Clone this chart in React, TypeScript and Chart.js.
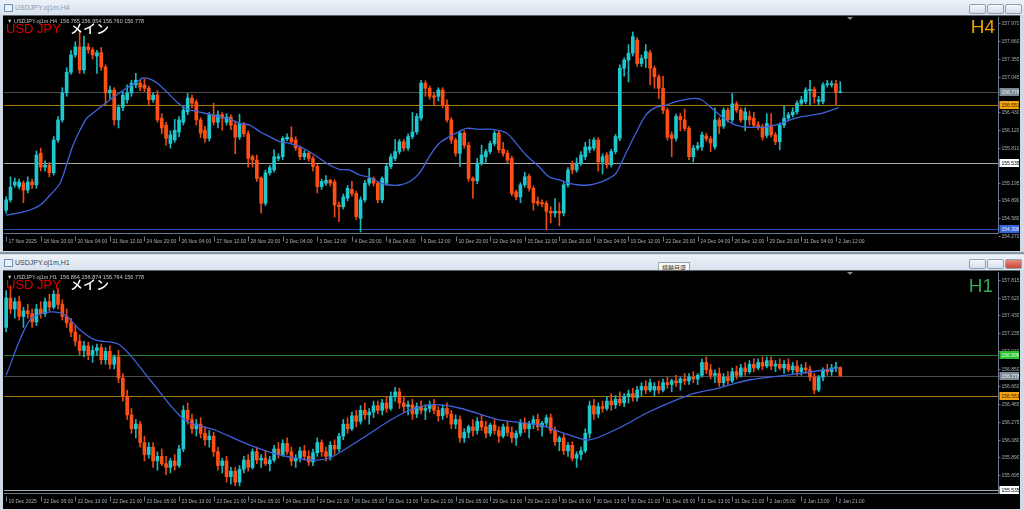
import React, { useEffect, useRef } from 'react';
import { Chart, registerables } from 'chart.js';
Chart.register(...registerables);

type Ohlc = [number, number, number, number];

// ---------------- H4 panel data ----------------
const h4XLabels = ['17 Nov 2025','18 Nov 20:00','20 Nov 04:00','21 Nov 12:00','24 Nov 20:00','26 Nov 04:00','27 Nov 12:00','28 Nov 20:00','2 Dec 04:00','3 Dec 12:00','4 Dec 20:00','8 Dec 04:00','9 Dec 12:00','10 Dec 20:00','12 Dec 04:00','15 Dec 12:00','16 Dec 20:00','18 Dec 04:00','19 Dec 12:00','22 Dec 20:00','24 Dec 04:00','26 Dec 12:00','29 Dec 20:00','31 Dec 04:00','2 Jan 12:00'];
const h4YTicks = [157.970,157.660,157.355,157.045,156.430,156.120,155.810,155.195,154.890,154.580,154.270];
const h4Ohlc: Ohlc[] = [
[154.72,154.95,154.67,154.90],[154.90,155.30,154.86,155.12],[155.16,155.28,155.12,155.21],[155.13,155.26,155.09,155.21],[155.19,155.23,154.85,155.07],
[155.07,155.30,155.02,155.21],[155.21,155.26,155.10,155.16],[155.16,155.75,155.10,155.68],[155.71,155.80,155.40,155.47],[155.47,155.58,155.40,155.50],
[155.50,155.55,155.30,155.37],[155.37,156.00,155.33,155.94],[155.94,156.35,155.90,156.29],[156.29,156.85,156.25,156.76],[156.76,157.20,156.70,157.12],
[157.12,157.50,157.08,157.42],[157.42,157.65,157.38,157.56],[157.56,157.85,157.10,157.16],[157.16,157.75,157.10,157.56],[157.56,157.62,157.45,157.51],
[157.51,157.55,157.35,157.42],[157.40,157.50,157.10,157.46],[157.46,157.55,157.15,157.21],[157.21,157.25,156.55,156.76],[156.76,156.88,156.65,156.81],
[156.81,156.85,156.20,156.29],[156.29,156.55,156.15,156.51],[156.51,156.78,156.45,156.72],[156.64,156.90,156.58,156.76],[156.76,156.98,156.70,156.93],
[156.90,157.10,156.85,156.98],[156.93,156.98,156.80,156.86],[156.90,157.00,156.78,156.84],[156.84,156.88,156.55,156.64],[156.64,156.76,156.60,156.72],
[156.72,156.80,156.25,156.29],[156.32,156.40,156.05,156.15],[156.20,156.25,155.85,155.97],[155.88,156.10,155.80,156.03],[155.94,156.30,155.90,156.11],
[156.08,156.35,156.00,156.29],[156.25,156.52,156.20,156.46],[156.43,156.75,156.38,156.67],[156.67,156.72,156.50,156.58],[156.60,156.64,156.20,156.29],
[156.29,156.33,155.98,156.06],[156.11,156.18,155.90,155.97],[155.97,156.42,155.92,156.38],[156.38,156.58,156.20,156.25],[156.25,156.45,156.15,156.38],
[156.38,156.42,156.11,156.32],[156.25,156.40,156.20,156.34],[156.34,156.38,156.12,156.20],[156.20,156.25,155.70,155.99],[155.99,156.39,155.95,156.23],
[156.20,156.25,156.00,156.05],[156.05,156.10,155.47,155.62],[155.65,155.68,155.47,155.59],[155.59,155.68,155.22,155.27],[155.28,155.30,154.67,154.84],
[154.84,155.42,154.80,155.37],[155.37,155.50,155.33,155.46],[155.42,155.77,155.38,155.65],[155.62,155.70,155.58,155.65],[155.65,156.00,155.60,155.97],
[155.96,156.05,155.93,155.99],[155.98,156.17,155.88,155.91],[155.94,156.00,155.76,155.80],[155.80,155.84,155.60,155.65],[155.65,155.76,155.60,155.71],
[155.71,155.74,155.57,155.62],[155.62,155.66,155.40,155.48],[155.48,155.52,155.02,155.13],[155.13,155.26,155.08,155.22],[155.19,155.32,155.15,155.24],
[155.24,155.26,155.14,155.19],[155.21,155.25,154.60,154.81],[154.81,154.86,154.52,154.78],[154.78,155.00,154.74,154.95],[154.93,155.15,154.88,155.10],
[155.08,155.22,154.97,155.01],[155.01,155.05,154.56,154.61],[154.58,154.95,154.34,154.90],[154.90,155.24,154.86,155.19],[155.19,155.45,155.15,155.27],
[155.27,155.30,155.14,155.19],[155.19,155.22,154.85,154.90],[154.90,155.30,154.85,155.27],[155.19,155.52,155.15,155.48],[155.48,155.70,155.44,155.65],
[155.62,155.95,155.58,155.74],[155.74,155.95,155.70,155.91],[155.91,155.95,155.75,155.80],[155.80,156.05,155.76,156.00],[156.00,156.42,155.96,156.08],
[156.08,156.40,156.04,156.35],[156.32,156.98,156.28,156.93],[156.93,156.97,156.70,156.84],[156.84,156.88,156.65,156.70],[156.71,156.76,156.55,156.68],
[156.70,156.85,156.62,156.81],[156.81,156.85,156.50,156.55],[156.55,156.64,156.25,156.29],[156.29,156.33,155.88,155.94],[155.94,155.98,155.66,155.71],
[155.71,156.10,155.48,156.06],[156.06,156.10,155.80,155.85],[155.85,155.90,155.22,155.27],[155.27,155.30,154.93,155.23],[155.23,155.62,155.18,155.54],
[155.54,155.85,155.50,155.68],[155.65,155.78,155.55,155.74],[155.74,155.92,155.70,155.88],[155.88,156.10,155.84,156.06],[156.06,156.10,155.72,155.77],
[155.78,155.90,155.66,155.71],[155.71,155.76,155.54,155.59],[155.62,155.66,154.97,155.01],[155.04,155.07,154.90,154.95],[154.95,155.20,154.85,155.16],
[155.16,155.38,155.12,155.30],[155.31,155.35,155.05,155.10],[155.10,155.14,154.72,154.85],[154.87,154.95,154.80,154.84],[154.85,154.90,154.78,154.83],
[154.84,154.88,154.38,154.70],[154.70,154.78,154.50,154.67],[154.67,154.92,154.60,154.70],[154.70,154.85,154.45,154.67],[154.67,155.20,154.62,155.16],
[155.16,155.46,155.12,155.42],[155.52,155.57,155.35,155.42],[155.42,155.63,155.38,155.54],[155.54,155.74,155.50,155.68],[155.65,155.90,155.60,155.82],
[155.77,155.95,155.72,155.82],[155.80,155.98,155.76,155.94],[155.94,155.98,155.40,155.56],[155.56,155.70,155.35,155.65],[155.68,155.72,155.45,155.51],
[155.51,155.78,155.47,155.74],[155.74,156.04,155.70,156.00],[155.97,157.25,155.93,157.19],[157.19,157.37,157.05,157.33],[157.33,157.60,156.95,157.45],
[157.45,157.82,157.40,157.74],[157.68,157.72,157.22,157.27],[157.27,157.42,157.22,157.36],[157.36,157.60,157.20,157.48],[157.46,157.50,156.90,157.19],
[157.19,157.23,156.84,157.04],[157.04,157.08,156.66,156.84],[156.84,157.05,156.40,156.46],[156.46,156.50,155.94,155.99],[156.03,156.08,155.65,155.97],
[155.97,156.39,155.92,156.35],[156.35,156.40,156.10,156.29],[156.29,156.48,156.10,156.14],[156.14,156.18,155.60,155.65],[155.65,155.85,155.56,155.80],
[155.80,155.90,155.76,155.84],[155.82,156.08,155.76,156.03],[156.01,156.06,155.92,155.96],[155.96,156.00,155.74,155.89],[155.82,156.50,155.78,156.29],
[156.29,156.33,156.05,156.18],[156.18,156.50,156.14,156.46],[156.46,156.50,156.25,156.29],[156.29,156.75,156.25,156.57],[156.57,156.61,156.42,156.46],
[156.46,156.50,156.25,156.29],[156.29,156.50,156.10,156.43],[156.35,156.44,156.20,156.29],[156.32,156.42,156.16,156.20],[156.20,156.26,156.12,156.17],
[156.17,156.21,155.94,155.99],[156.02,156.40,155.98,156.23],[156.20,156.40,155.99,156.03],[156.03,156.07,155.86,155.91],[155.91,156.24,155.77,156.20],
[156.20,156.53,156.16,156.32],[156.32,156.42,156.28,156.38],[156.38,156.50,156.34,156.43],[156.43,156.62,156.39,156.58],[156.58,156.70,156.54,156.64],
[156.61,156.85,156.57,156.81],[156.80,156.98,156.55,156.82],[156.82,156.86,156.58,156.69],[156.61,156.70,156.55,156.64],[156.61,156.94,156.57,156.90],
[156.90,156.98,156.86,156.92],[156.90,156.97,156.86,156.92],[156.92,156.98,156.55,156.77],[156.765,156.954,156.760,156.778]
];
const h4MaIdx = [0,3.2,5.5,7.9,10.2,12.5,14.1,15.5,17.1,18.7,21.0,23.3,25.6,27.9,30.3,31.6,33.3,34.9,37.2,39.5,41.8,44.8,48.7,52.4,54.0,56.4,58.7,61.0,63.3,65.6,67.9,70.2,72.5,74.8,77.1,79.4,81.8,84.1,86.4,88.7,91.0,93.3,95.6,97.9,100.2,102.5,104.8,106.5,109.5,112.5,115.7,118.0,120.3,123.3,125.6,128.0,130.3,132.6,134.9,137.2,139.5,141.1,143.4,145.7,148.0,150.3,152.7,155.0,157.3,159.6,161.0,163.3,165.6,167.9,170.2,172.5,174.8,177.1,179.4,181.8,184.1,186.4,188.7,191.0,192.6];
const h4MaVal = [154.636,154.676,154.723,154.810,154.984,155.193,155.540,155.853,156.114,156.323,156.462,156.601,156.723,156.845,156.949,157.019,157.001,156.932,156.775,156.601,156.480,156.427,156.358,156.288,156.231,156.201,156.085,155.998,155.911,155.883,155.824,155.737,155.622,155.506,155.431,155.419,155.332,155.292,155.198,155.158,155.158,155.215,155.361,155.650,155.883,155.998,156.085,156.144,156.127,156.127,156.067,155.883,155.680,155.476,155.302,155.245,155.187,155.158,155.158,155.198,155.274,155.361,155.709,156.057,156.375,156.509,156.549,156.607,156.648,156.666,156.636,156.492,156.346,156.231,156.172,156.161,156.161,156.184,156.231,156.300,156.346,156.375,156.405,156.462,156.502];
const h4Levels = [156.778, 156.551, 155.535, 154.396];
const h4LevelLine = ['#4d4d4d', '#a8780e', '#a8a8a8', '#2a4cb0'];
const h4LevelBox = ['#7e8a97', '#f2a30f', '#ffffff', '#3464da'];
const h4LevelInk = ['#f0f0f0', '#3a2000', '#000000', '#f0f0f0'];
const h4Quote = '156.765 156.954 156.760 156.778';

// ---------------- H1 panel data ----------------
const h1XLabels = ['19 Dec 2025','22 Dec 05:00','22 Dec 13:00','22 Dec 21:00','23 Dec 05:00','23 Dec 13:00','23 Dec 21:00','24 Dec 05:00','24 Dec 13:00','24 Dec 21:00','26 Dec 05:00','26 Dec 13:00','26 Dec 21:00','29 Dec 05:00','29 Dec 13:00','29 Dec 21:00','30 Dec 05:00','30 Dec 13:00','30 Dec 21:00','31 Dec 05:00','31 Dec 13:00','31 Dec 21:00','2 Jan 05:00','2 Jan 13:00','2 Jan 21:00'];
const h1YTicks = [157.815,157.620,157.430,157.235,157.040,156.850,156.660,156.465,156.275,156.080,155.890,155.695];
const h1Ohlc: Ohlc[] = [
[157.30,157.70,157.25,157.62],[157.62,157.75,157.45,157.50],[157.50,157.62,157.40,157.58],[157.58,157.64,157.38,157.42],[157.42,157.52,157.30,157.48],
[157.48,157.55,157.40,157.45],[157.45,157.50,157.30,157.36],[157.36,157.55,157.32,157.50],[157.50,157.58,157.40,157.45],[157.45,157.62,157.42,157.58],
[157.58,157.66,157.48,157.52],[157.52,157.70,157.50,157.66],[157.66,157.72,157.50,157.55],[157.55,157.60,157.38,157.42],[157.42,157.50,157.30,157.35],
[157.35,157.40,157.20,157.25],[157.25,157.32,157.10,157.15],[157.15,157.22,157.00,157.05],[157.05,157.15,156.98,157.10],[157.10,157.14,156.95,157.00],
[157.00,157.10,156.92,157.05],[157.05,157.12,157.00,157.08],[157.08,157.12,156.90,156.95],[156.95,157.08,156.90,157.04],[157.04,157.10,156.85,156.90],
[156.90,157.00,156.85,156.98],[156.98,157.05,156.70,156.75],[156.75,156.80,156.50,156.55],[156.55,156.62,156.30,156.35],[156.35,156.42,156.15,156.20],
[156.20,156.30,156.10,156.25],[156.25,156.28,156.00,156.05],[156.05,156.12,155.85,155.92],[155.92,156.05,155.88,156.00],[156.00,156.05,155.78,155.85],
[155.85,155.95,155.75,155.90],[155.90,155.98,155.80,155.82],[155.82,155.90,155.70,155.78],[155.78,155.88,155.72,155.85],[155.85,155.92,155.75,155.80],
[155.80,156.02,155.78,155.98],[155.98,156.45,155.95,156.40],[156.40,156.48,156.25,156.30],[156.30,156.36,156.15,156.20],[156.20,156.30,156.12,156.25],
[156.25,156.32,156.10,156.15],[156.15,156.22,156.02,156.08],[156.08,156.18,156.00,156.12],[156.12,156.16,155.90,155.95],[155.95,156.00,155.75,155.80],
[155.80,155.88,155.72,155.85],[155.85,155.90,155.62,155.68],[155.68,155.78,155.60,155.74],[155.74,155.78,155.58,155.62],[155.62,155.80,155.58,155.76],
[155.76,155.90,155.72,155.86],[155.86,155.92,155.74,155.78],[155.78,155.98,155.76,155.95],[155.95,156.00,155.82,155.86],[155.86,155.92,155.78,155.88],
[155.88,155.96,155.80,155.82],[155.82,155.90,155.74,155.86],[155.86,156.02,155.84,155.98],[155.98,156.05,155.88,155.92],[155.92,156.08,155.90,156.04],
[156.04,156.10,155.92,155.95],[155.95,156.00,155.80,155.85],[155.85,155.92,155.78,155.88],[155.88,156.00,155.84,155.96],[155.96,156.02,155.86,155.90],
[155.90,155.96,155.80,155.84],[155.84,155.98,155.80,155.94],[155.94,156.10,155.90,156.05],[156.05,156.08,155.90,155.95],[155.95,156.00,155.85,155.90],
[155.90,156.06,155.86,156.02],[156.02,156.08,155.92,155.98],[155.98,156.15,155.95,156.12],[156.12,156.30,156.08,156.25],[156.25,156.32,156.15,156.20],
[156.20,156.38,156.18,156.34],[156.34,156.40,156.22,156.28],[156.28,156.45,156.25,156.40],[156.40,156.48,156.30,156.35],[156.35,156.42,156.25,156.38],
[156.38,156.50,156.32,156.45],[156.45,156.50,156.36,156.40],[156.40,156.52,156.35,156.48],[156.48,156.55,156.38,156.42],[156.42,156.60,156.40,156.55],
[156.55,156.65,156.50,156.60],[156.60,156.64,156.42,156.48],[156.48,156.55,156.38,156.44],[156.44,156.50,156.35,156.46],[156.46,156.52,156.30,156.36],
[156.36,156.48,156.32,156.44],[156.44,156.50,156.36,156.40],[156.40,156.46,156.30,156.42],[156.42,156.50,156.38,156.46],[156.46,156.52,156.36,156.40],
[156.40,156.44,156.28,156.34],[156.34,156.46,156.30,156.42],[156.42,156.48,156.32,156.36],[156.36,156.40,156.20,156.25],[156.25,156.35,156.20,156.30],
[156.30,156.34,156.05,156.10],[156.10,156.20,156.05,156.16],[156.16,156.24,156.10,156.22],[156.22,156.30,156.12,156.18],[156.18,156.32,156.14,156.28],
[156.28,156.35,156.18,156.22],[156.22,156.28,156.10,156.15],[156.15,156.26,156.12,156.24],[156.24,156.30,156.14,156.18],[156.18,156.22,156.05,156.12],
[156.12,156.25,156.10,156.22],[156.22,156.28,156.12,156.16],[156.16,156.22,156.05,156.10],[156.10,156.18,156.02,156.15],[156.15,156.30,156.12,156.26],
[156.26,156.32,156.16,156.20],[156.20,156.28,156.10,156.25],[156.25,156.34,156.20,156.30],[156.30,156.36,156.18,156.22],[156.22,156.28,156.12,156.26],
[156.26,156.35,156.22,156.32],[156.32,156.36,156.15,156.18],[156.18,156.22,156.02,156.06],[156.06,156.12,155.96,156.10],[156.10,156.14,155.92,155.96],
[155.96,156.05,155.90,156.02],[156.02,156.06,155.85,155.88],[155.88,155.95,155.78,155.92],[155.92,156.00,155.86,155.96],[155.96,156.20,155.94,156.15],
[156.15,156.50,156.10,156.45],[156.45,156.52,156.30,156.36],[156.36,156.48,156.32,156.44],[156.44,156.50,156.38,156.42],[156.42,156.55,156.40,156.50],
[156.50,156.58,156.40,156.46],[156.46,156.56,156.42,156.52],[156.52,156.60,156.45,156.48],[156.48,156.58,156.44,156.55],[156.55,156.62,156.48,156.58],
[156.58,156.64,156.50,156.54],[156.54,156.66,156.50,156.62],[156.62,156.70,156.56,156.66],[156.66,156.72,156.58,156.62],[156.62,156.74,156.60,156.70],
[156.62,156.70,156.56,156.66],[156.66,156.72,156.58,156.62],[156.62,156.74,156.60,156.70],[156.70,156.76,156.64,156.68],[156.68,156.74,156.60,156.72],
[156.72,156.78,156.66,156.70],[156.70,156.76,156.62,156.74],[156.74,156.80,156.68,156.72],[156.72,156.80,156.68,156.76],[156.76,156.82,156.70,156.74],
[156.74,156.80,156.68,156.78],[156.78,156.96,156.76,156.92],[156.92,156.98,156.80,156.84],[156.84,156.90,156.74,156.78],[156.78,156.84,156.70,156.80],
[156.80,156.86,156.66,156.70],[156.70,156.80,156.66,156.76],[156.76,156.82,156.68,156.72],[156.72,156.86,156.70,156.82],[156.82,156.88,156.74,156.78],
[156.78,156.90,156.76,156.86],[156.86,156.92,156.78,156.82],[156.82,156.94,156.80,156.90],[156.90,156.96,156.82,156.86],[156.86,156.96,156.84,156.92],
[156.92,156.98,156.84,156.88],[156.88,156.98,156.86,156.94],[156.94,156.98,156.84,156.88],[156.88,156.94,156.82,156.90],[156.90,156.96,156.84,156.86],
[156.86,156.94,156.80,156.90],[156.90,156.96,156.82,156.84],[156.84,156.92,156.80,156.88],[156.88,156.94,156.78,156.82],[156.82,156.90,156.78,156.86],
[156.86,156.92,156.80,156.84],[156.84,156.88,156.72,156.76],[156.76,156.80,156.58,156.62],[156.62,156.78,156.60,156.76],[156.76,156.86,156.72,156.84],
[156.84,156.90,156.78,156.82],[156.82,156.90,156.78,156.86],[156.86,156.92,156.82,156.86],[156.864,156.874,156.764,156.778]
];
const h1MaIdx = [0,5.5,10.2,13.6,17.1,20.6,26.3,33.3,41.3,48.3,56.4,63.3,70.2,74.8,81.8,91.0,97.9,104.8,114.1,123.3,130.3,134.9,141.8,148.7,158.0,164.9,171.8,181.1,192.6];
const h1MaVal = [156.784,157.381,157.468,157.435,157.272,157.164,157.109,156.729,156.295,156.186,156.023,155.915,155.861,155.882,156.078,156.349,156.458,156.425,156.295,156.241,156.132,156.078,156.208,156.382,156.566,156.642,156.729,156.784,156.860];
const h1Levels = [156.996, 156.778, 156.551, 155.535];
const h1LevelLine = ['#1f7d24', '#4d4d4d', '#a8780e', '#a8a8a8'];
const h1LevelBox = ['#27c22c', '#7e8a97', '#f2a30f', '#ffffff'];
const h1LevelInk = ['#f4fff4', '#f0f0f0', '#3a2000', '#000000'];
const h1Quote = '156.864 156.874 156.764 156.778';

// ---------------- styling ----------------
const SLOTS = 230;
const LABEL_STEP = 8;
const BULL = '#1fc7cf';
const BEAR = '#ff4f14';
const BULL_WICK = '#1bb6be';
const BEAR_WICK = '#ea4812';
const MA_COLOR = '#3f62dc';
const AXIS = '#6b7a8a';
const INK = '#a9aeb4';
const CANVAS_W = 1015;
const FONT = '"Liberation Sans", Arial, sans-serif';

interface PanelSpec {
  ohlc: Ohlc[]; maIdx: number[]; maVal: number[]; yMin: number; yMax: number; yTicks: number[];
  xLabels: string[]; levels: number[]; levelLine: string[]; levelBox: string[]; levelInk: string[];
  title: string; quote: string; tf: string; tfColor: string; height: number; padTop: number; padBottom: number;
  headY: number; bigY: number; tfRight: number; tfY: number;
}

const h4Spec: PanelSpec = {
  ohlc: h4Ohlc, maIdx: h4MaIdx, maVal: h4MaVal, yMin: 154.323, yMax: 158.080, yTicks: h4YTicks,
  xLabels: h4XLabels, levels: h4Levels, levelLine: h4LevelLine, levelBox: h4LevelBox, levelInk: h4LevelInk,
  title: 'USDJPY.oj1m,H4', quote: h4Quote, tf: 'H4', tfColor: '#f0a000', height: 234, padTop: 1, padBottom: 17,
  headY: 5, bigY: 17, tfRight: 991, tfY: 17,
};
const h1Spec: PanelSpec = {
  ohlc: h1Ohlc, maIdx: h1MaIdx, maVal: h1MaVal, yMin: 155.502, yMax: 157.902, yTicks: h1YTicks,
  xLabels: h1XLabels, levels: h1Levels, levelLine: h1LevelLine, levelBox: h1LevelBox, levelInk: h1LevelInk,
  title: 'USDJPY.oj1m,H1', quote: h1Quote, tf: 'H1', tfColor: '#34a853', height: 236, padTop: 1, padBottom: 14,
  headY: 6.5, bigY: 18, tfRight: 989, tfY: 21,
};

function buildConfig(p: PanelSpec): any {
  const bodies = p.ohlc.map((c, i) => ({ x: i, y: [c[0], c[3]] }));
  const wicks = p.ohlc.map((c, i) => ({ x: i, y: [c[2], c[1]] }));
  const up = p.ohlc.map((c) => c[3] >= c[0]);
  const ma = p.maIdx.map((x, i) => ({ x, y: p.maVal[i] }));

  const plugin = {
    id: 'mt4look',
    beforeDatasetsDraw(chart: any) {
      const ctx = chart.ctx; const a = chart.chartArea; const ys = chart.scales.y;
      ctx.save();
      ctx.lineWidth = 1;
      p.levels.forEach((v, k) => {
        const y = Math.round(ys.getPixelForValue(v)) + 0.5;
        ctx.strokeStyle = p.levelLine[k];
        ctx.beginPath(); ctx.moveTo(a.left, y); ctx.lineTo(a.right, y); ctx.stroke();
      });
      ctx.restore();
    },
    afterDraw(chart: any) {
      const ctx = chart.ctx; const a = chart.chartArea; const xs = chart.scales.x; const ys = chart.scales.y;
      ctx.save();
      ctx.strokeStyle = AXIS; ctx.lineWidth = 1;
      const ax = Math.round(a.right) + 0.5;
      const by = Math.round(a.bottom) + 0.5;
      ctx.beginPath();
      ctx.moveTo(ax, a.top); ctx.lineTo(ax, by);
      ctx.moveTo(a.left, by); ctx.lineTo(ax, by);
      ctx.stroke();
      // price scale
      ctx.font = `5px ${FONT}`; ctx.fillStyle = INK; ctx.textBaseline = 'middle'; ctx.textAlign = 'left';
      p.yTicks.forEach((v) => {
        const y = Math.round(ys.getPixelForValue(v)) + 0.5;
        ctx.beginPath(); ctx.moveTo(ax, y); ctx.lineTo(ax + 2, y); ctx.stroke();
        ctx.fillText(v.toFixed(3), ax + 3, y);
      });
      // time scale
      p.xLabels.forEach((t, k) => {
        const x = Math.round(xs.getPixelForValue(k * LABEL_STEP)) + 0.5;
        ctx.beginPath(); ctx.moveTo(x, by + 3); ctx.lineTo(x, by + 8); ctx.stroke();
        ctx.fillText(t, x + 2, by + 8.5);
      });
      // level boxes
      p.levels.forEach((v, k) => {
        const y = Math.round(ys.getPixelForValue(v));
        ctx.fillStyle = p.levelBox[k];
        ctx.fillRect(ax + 1, y - 4, 20, 8);
        ctx.fillStyle = p.levelInk[k];
        ctx.fillText(v.toFixed(3), ax + 3, y + 0.5);
      });
      // shift marker
      ctx.fillStyle = '#8a8a8a';
      ctx.beginPath(); ctx.moveTo(843, a.top); ctx.lineTo(849, a.top); ctx.lineTo(846, a.top + 3); ctx.closePath(); ctx.fill();
      // header line
      ctx.font = `5.5px ${FONT}`; ctx.fillStyle = '#c8c8c8'; ctx.textBaseline = 'middle';
      ctx.fillText('\u25BC ' + p.title + '  ' + p.quote, 3, p.headY);
      ctx.textBaseline = 'alphabetic';
      ctx.font = `13px ${FONT}`; ctx.fillStyle = '#e00000';
      ctx.fillText('USD JPY', 2, p.bigY);
      ctx.font = `500 13px "Noto Sans CJK JP", sans-serif`; ctx.fillStyle = '#ffffff';
      ctx.fillText('メイン', 66, p.bigY);
      ctx.font = `19px ${FONT}`; ctx.fillStyle = p.tfColor; ctx.textAlign = 'right';
      ctx.fillText(p.tf, p.tfRight, p.tfY);
      ctx.restore();
    },
  };

  return {
    type: 'bar',
    data: {
      datasets: [
        { type: 'line', data: ma, borderColor: MA_COLOR, borderWidth: 1.3, pointRadius: 0, tension: 0.3, order: 0 },
        { type: 'bar', data: bodies, backgroundColor: up.map((u) => (u ? BULL : BEAR)), barThickness: 3, minBarLength: 1, grouped: false, order: 1 },
        { type: 'bar', data: wicks, backgroundColor: up.map((u) => (u ? BULL_WICK : BEAR_WICK)), barThickness: 1, grouped: false, order: 2 },
      ],
    },
    options: {
      animation: false,
      responsive: false,
      maintainAspectRatio: false,
      devicePixelRatio: 1,
      events: [],
      layout: { padding: { left: 0, right: CANVAS_W - 994, top: p.padTop, bottom: p.padBottom } },
      plugins: { legend: { display: false }, tooltip: { enabled: false } },
      scales: {
        x: { type: 'linear', display: false, min: -0.5, max: SLOTS - 0.5, offset: false },
        y: { type: 'linear', display: false, min: p.yMin, max: p.yMax, beginAtZero: false },
      },
    },
    plugins: [plugin],
  };
}

function ChartPanel({ spec, top }: { spec: PanelSpec; top: number }) {
  const ref = useRef<HTMLCanvasElement>(null);
  useEffect(() => {
    const chart = new Chart(ref.current as HTMLCanvasElement, buildConfig(spec));
    return () => chart.destroy();
  }, [spec]);
  return (
    <canvas ref={ref} width={CANVAS_W} height={spec.height}
      style={{ position: 'absolute', left: 4, top, width: CANVAS_W, height: spec.height, background: '#000' }} />
  );
}

function TitleBar({ top, title, active }: { top: number; title: string; active: boolean }) {
  const btn = (left: number, red: boolean) => (
    <div style={{ position: 'absolute', left, top: 4, width: 15, height: 8, borderRadius: 2,
      border: '1px solid #8e9fb2', background: red ? 'linear-gradient(#e98a7c,#c8493a)' : 'linear-gradient(#f4f7fb,#d5dfea)' }} />
  );
  return (
    <div style={{ position: 'absolute', left: 0, top, width: 1024, height: 15,
      background: 'linear-gradient(#edf2f8,#d7e2ee)' }}>
      <div style={{ position: 'absolute', left: 4, top: 4, width: 7, height: 6, border: '1px solid #6f8fb5', background: '#e8f0fa' }} />
      <div style={{ position: 'absolute', left: 15, top: 0, lineHeight: '15px', fontSize: 7, fontFamily: FONT,
        color: active ? '#3a4552' : '#8e9aa8' }}>{title}</div>
      {btn(969, false)}
      {btn(987, false)}
      {btn(1005, active)}
    </div>
  );
}

export default function App() {
  return (
    <div style={{ position: 'fixed', left: 0, top: 0, width: 1024, height: 510, overflow: 'hidden',
      background: '#cfdae6', fontFamily: FONT }}>
      <TitleBar top={0} title="USDJPY.oj1m,H4" active={false} />
      <div style={{ position: 'absolute', left: 3, top: 15, width: 1017, height: 235, background: '#000', borderTop: '1px solid #5d646c' }} />
      <ChartPanel spec={h4Spec} top={16} />
      <div style={{ position: 'absolute', left: 0, top: 252, width: 1024, height: 2, background: '#8895a3' }} />
      <TitleBar top={255} title="USDJPY.oj1m,H1" active />
      <div style={{ position: 'absolute', left: 658, top: 262, padding: '0 3px', height: 9, lineHeight: '9px', fontSize: 6,
        fontFamily: '"Noto Sans CJK JP", sans-serif', background: '#f8f8f8', border: '1px solid #9aa4ae', color: '#333' }}>横軸目盛</div>
      <div style={{ position: 'absolute', left: 3, top: 270, width: 1017, height: 238, background: '#000', borderTop: '1px solid #5d646c' }} />
      <ChartPanel spec={h1Spec} top={271} />
    </div>
  );
}
